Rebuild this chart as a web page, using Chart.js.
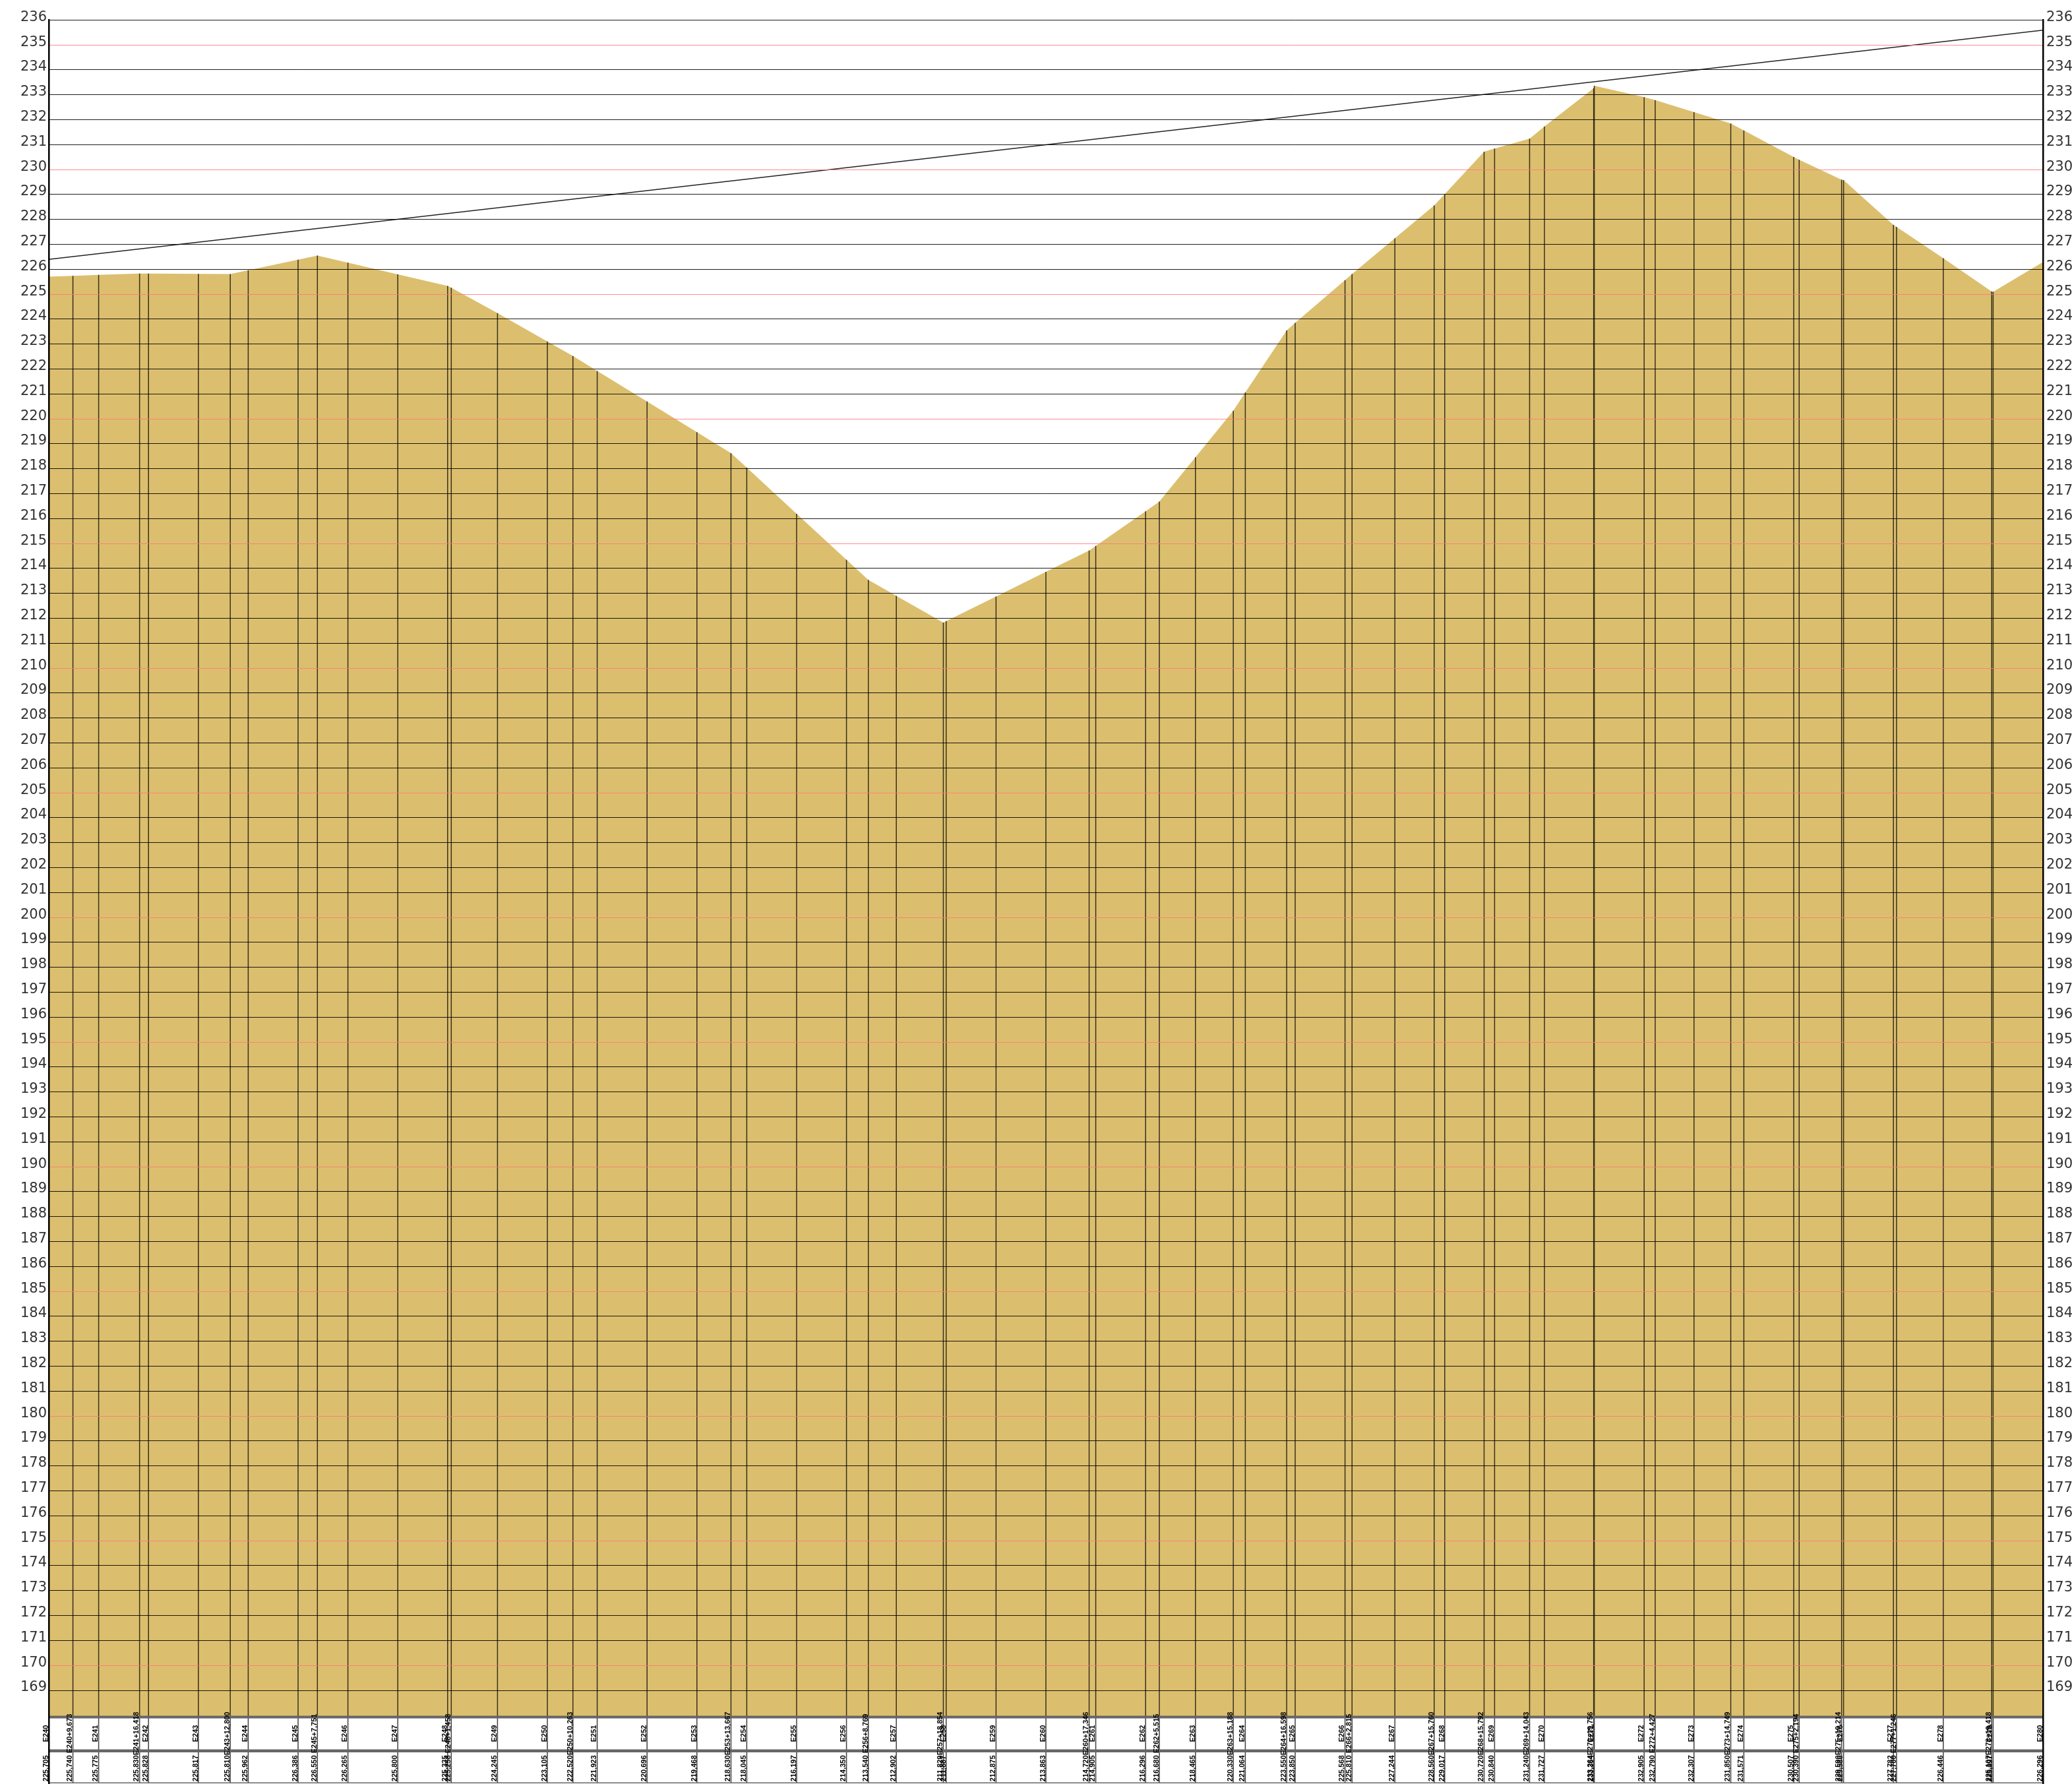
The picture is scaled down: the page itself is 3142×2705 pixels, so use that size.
<!DOCTYPE html>
<html>
<head>
<meta charset="utf-8">
<title>Longitudinal profile E240 - E280</title>
<script src="https://cdn.jsdelivr.net/npm/chart.js@4"></script>
<style>
    html, body { margin: 0; padding: 0; background: #fff; }
    canvas { display: block; }
</style>
</head>
<body>
<canvas id="profile-chart" width="3142" height="2705"></canvas>
<script>
// station names, distance along the route (m) and ground level (m)
const stationNames = [
    'E240', 'E240+9,673', 'E241', 'E241+16,418', 'E242', 'E243', 'E243+12,800', 'E244', 'E245', 'E245+7,751',
    'E246', 'E247', 'E248', 'E248+1,458', 'E249', 'E250', 'E250+10,263', 'E251', 'E252', 'E253',
    'E253+13,667', 'E254', 'E255', 'E256', 'E256+8,769', 'E257', 'E257+18,854', 'E258', 'E259', 'E260',
    'E260+17,346', 'E261', 'E262', 'E262+5,515', 'E263', 'E263+15,188', 'E264', 'E264+16,598', 'E265', 'E266',
    'E266+2,815', 'E267', 'E267+15,760', 'E268', 'E268+15,792', 'E269', 'E269+14,043', 'E270', 'E270+19,756', 'E271',
    'E272', 'E272+4,427', 'E273', 'E273+14,749', 'E274', 'E275', 'E275+2,194', 'E275+19,214', 'E276', 'E277',
    'E277+1,246', 'E278', 'E278+19,418', 'E279', 'E280'
];
const stationDistances = [
    0, 9.673, 20, 36.418, 40, 60, 72.8, 80, 100, 107.751,
    120, 140, 160, 161.458, 180, 200, 210.263, 220, 240, 260,
    273.667, 280, 300, 320, 328.769, 340, 358.854, 360, 380, 400,
    417.346, 420, 440, 445.515, 460, 475.188, 480, 496.598, 500, 520,
    522.815, 540, 555.76, 560, 575.792, 580, 594.043, 600, 619.756, 620,
    640, 644.427, 660, 674.749, 680, 700, 702.194, 719.214, 720, 740,
    741.246, 760, 779.418, 780, 800
];
const groundLevels = [
    225.705, 225.740, 225.775, 225.830, 225.828, 225.817, 225.810, 225.962, 226.386, 226.550,
    226.265, 225.800, 225.335, 225.258, 224.245, 223.105, 222.520, 221.923, 220.696, 219.468,
    218.630, 218.045, 216.197, 214.350, 213.540, 212.902, 211.829, 211.887, 212.875, 213.863,
    214.720, 214.905, 216.296, 216.680, 218.465, 220.330, 221.064, 223.550, 223.850, 225.568,
    225.810, 227.244, 228.560, 229.017, 230.720, 230.840, 231.240, 231.727, 233.264, 233.364,
    232.905, 232.790, 232.307, 231.850, 231.571, 230.507, 230.390, 229.590, 229.580, 227.782,
    227.700, 226.446, 225.107, 225.097, 226.296
];
const levelLabels = [
    '225,705', '225,740', '225,775', '225,830', '225,828', '225,817', '225,810', '225,962', '226,386', '226,550',
    '226,265', '225,800', '225,335', '225,258', '224,245', '223,105', '222,520', '221,923', '220,696', '219,468',
    '218,630', '218,045', '216,197', '214,350', '213,540', '212,902', '211,829', '211,887', '212,875', '213,863',
    '214,720', '214,905', '216,296', '216,680', '218,465', '220,330', '221,064', '223,550', '223,850', '225,568',
    '225,810', '227,244', '228,560', '229,017', '230,720', '230,840', '231,240', '231,727', '233,264', '233,364',
    '232,905', '232,790', '232,307', '231,850', '231,571', '230,507', '230,390', '229,590', '229,580', '227,782',
    '227,700', '226,446', '225,107', '225,097', '226,296'
];
// design grade line, start and end
const gradeDistances = [0, 800];
const gradeLevels = [226.397, 235.59];
const yTickValues = [
    236, 235, 234, 233, 232, 231, 230, 229, 228, 227, 226, 225, 224, 223, 222, 221, 220, 219, 218, 217,
    216, 215, 214, 213, 212, 211, 210, 209, 208, 207, 206, 205, 204, 203, 202, 201, 200, 199, 198, 197,
    196, 195, 194, 193, 192, 191, 190, 189, 188, 187, 186, 185, 184, 183, 182, 181, 180, 179, 178, 177,
    176, 175, 174, 173, 172, 171, 170, 169
];

const Y_MIN = 165.27;
const Y_MAX = 236;
const FILL_BASE = 167.97;
const ROW1_CENTER = 167.27;
const ROW2_CENTER = 165.87;

// table under the profile: two rows of rotated text between grey rules
const stationTable = {
    id: 'stationTable',
    afterDatasetsDraw(chart) {
        const { ctx, chartArea, scales: { x, y } } = chart;
        ctx.save();

        // rules
        ctx.strokeStyle = '#666';
        [[167.93, 4], [166.57, 4.5], [165.29, 1.5]].forEach(([level, width]) => {
            const py = y.getPixelForValue(level);
            ctx.lineWidth = width;
            ctx.beginPath();
            ctx.moveTo(chartArea.left, py);
            ctx.lineTo(chartArea.right, py);
            ctx.stroke();
        });

        ctx.font = 'bold 11px "Liberation Sans"';
        ctx.fillStyle = '#000';
        ctx.textAlign = 'center';
        ctx.textBaseline = 'alphabetic';
        stationNames.forEach((name, i) => {
            const px = x.getPixelForValue(stationDistances[i]) - 1.2;
            [[name, ROW1_CENTER], [levelLabels[i], ROW2_CENTER]].forEach(([text, level]) => {
                ctx.save();
                ctx.translate(px, y.getPixelForValue(level));
                ctx.rotate(-Math.PI / 2);
                ctx.fillText(text, 0, 0);
                ctx.restore();
            });
        });
        ctx.restore();
    }
};

const stationLines = stationDistances.flatMap((d, i) => [
    { x: d, y: groundLevels[i] },
    { x: d, y: Y_MIN },
    { x: d, y: null }
]);

const gridColor = (context) => {
    if (context.tick.value % 5 === 0) return 'rgba(255, 120, 120, 0.6)';
    return 'rgba(0, 0, 0, 0.65)';
};

const yAxis = (position, padding) => ({
    type: 'linear',
    position: position,
    min: Y_MIN,
    max: Y_MAX,
    afterBuildTicks: (axis) => {
        axis.ticks = yTickValues.map((value) => ({ value }));
    },
    afterFit: (axis) => {
        axis.width = position === 'left' ? 74 : 44;
        axis.paddingTop = 0;
        axis.paddingBottom = 0;
    },
    ticks: {
        color: '#333',
        font: { size: 21, family: 'DejaVu Sans' },
        padding: padding,
        labelOffset: -4,
        autoSkip: false,
        callback: (val) => String(val),
    },
    grid: {
        color: gridColor,
        lineWidth: 1,
        drawTicks: false,
        z: 1,
    },
    border: { display: true, color: '#000', width: 2.5, z: 2 }
});

new Chart(document.getElementById('profile-chart'), {
    type: 'line',
    data: {
        datasets: [
            {
                label: 'Ground',
                data: stationDistances.map((d, i) => ({ x: d, y: groundLevels[i] })),
                borderWidth: 0,
                pointRadius: 0,
                backgroundColor: '#dcbf6e',
                fill: { value: FILL_BASE },
                order: 5,
            },
            {
                label: 'Stations',
                data: stationLines,
                borderColor: 'rgba(0, 0, 0, 0.75)',
                borderWidth: 1.5,
                pointRadius: 0,
                fill: false,
                spanGaps: false,
                order: 2,
            },
            {
                label: 'Grade',
                data: gradeDistances.map((d, i) => ({ x: d, y: gradeLevels[i] })),
                borderColor: '#222',
                borderWidth: 1.5,
                pointRadius: 0,
                fill: false,
                order: 1,
            }
        ]
    },
    options: {
        responsive: false,
        animation: false,
        layout: { padding: { top: 30.3, bottom: 1, left: 0, right: 0 } },
        plugins: {
            legend: { display: false },
            tooltip: { enabled: false },
        },
        scales: {
            x: { type: 'linear', min: 0, max: 800, display: false },
            y: yAxis('left', 3),
            yRight: yAxis('right', 5),
        }
    },
    plugins: [stationTable]
});
</script>
</body>
</html>
